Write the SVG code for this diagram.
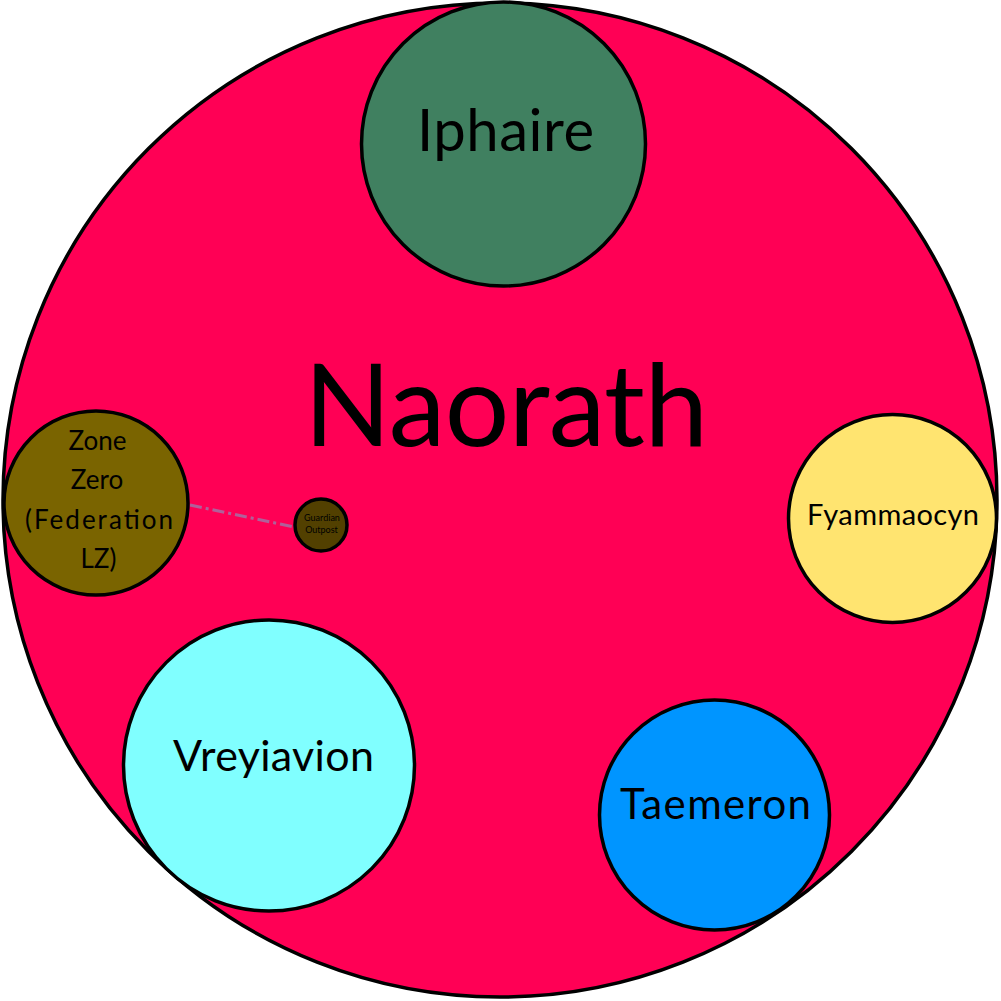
<svg xmlns="http://www.w3.org/2000/svg" width="1001" height="1001" viewBox="0 0 1001 1001">
<style>
  .node { stroke: #000; stroke-width: 3.5; }
  .lbl { font-family: Lato, "Open Sans", "Liberation Sans", sans-serif; fill: #000; text-anchor: middle; }
  .link { stroke: #b0609a; stroke-width: 3; stroke-dasharray: 12 4 3 4; fill: none; }
</style>
<rect width="1001" height="1001" fill="#fff"/>
<g id="naorath">
  <circle class="node" cx="500" cy="500" r="497" fill="#ff0055"/>
  <text class="lbl" x="506" y="446" font-size="114" textLength="404" lengthAdjust="spacing">Naorath</text>
</g>
<g id="connectors">
  <line class="link" x1="190" y1="505" x2="294" y2="527"/>
</g>
<g id="iphaire">
  <circle class="node" cx="503.5" cy="144" r="142" fill="#408060"/>
  <text class="lbl" x="505.5" y="151" font-size="58" textLength="177" lengthAdjust="spacing">Iphaire</text>
</g>
<g id="zone-zero">
  <circle class="node" cx="96" cy="503" r="92" fill="#7a6400"/>
  <text class="lbl" x="97.5" y="450" font-size="26">Zone</text>
  <text class="lbl" x="97" y="489" font-size="26">Zero</text>
  <text class="lbl" x="99" y="529" font-size="26" textLength="148" lengthAdjust="spacing">(Federation</text>
  <text class="lbl" x="98.5" y="568" font-size="26">LZ)</text>
</g>
<g id="guardian-outpost">
  <circle class="node" cx="321" cy="525" r="26" fill="#524000"/>
  <text class="lbl" x="322" y="521" font-size="9">Guardian</text>
  <text class="lbl" x="321.5" y="533" font-size="9">Outpost</text>
</g>
<g id="fyammaocyn">
  <circle class="node" cx="892.5" cy="518.5" r="104" fill="#ffe470"/>
  <text class="lbl" x="893" y="525" font-size="29" textLength="172" lengthAdjust="spacing">Fyammaocyn</text>
</g>
<g id="vreyiavion">
  <circle class="node" cx="269" cy="765.5" r="145.5" fill="#80ffff"/>
  <text class="lbl" x="273.5" y="771" font-size="43" textLength="201" lengthAdjust="spacing">Vreyiavion</text>
</g>
<g id="taemeron">
  <circle class="node" cx="714.5" cy="815" r="115" fill="#0095ff"/>
  <text class="lbl" x="715.5" y="819" font-size="42" textLength="191" lengthAdjust="spacing">Taemeron</text>
</g>
</svg>
